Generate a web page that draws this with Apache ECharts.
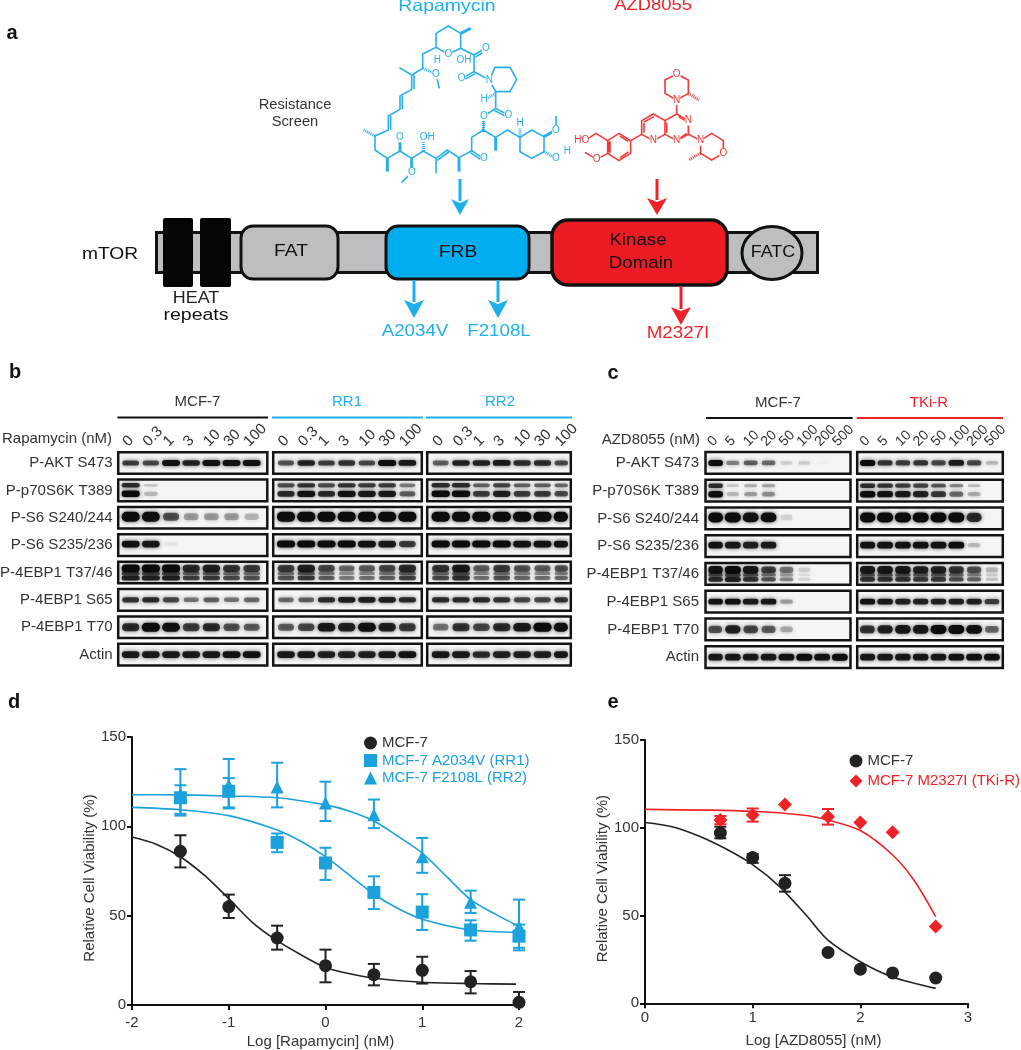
<!DOCTYPE html>
<html>
<head>
<meta charset="utf-8">
<title>mTOR resistance figure</title>
<script src="https://cdn.jsdelivr.net/npm/echarts@6/dist/echarts.min.js"></script>
<style>
  html, body { margin: 0; padding: 0; background: #fff; }
  #chart { width: 1021px; height: 1050px; }
</style>
</head>
<body>
<div id="chart"></div>
<script>
// ---- panel d values
const dDoses = [-1.5, -1, -0.5, 0, 0.5, 1, 1.5, 2];
const dMcf7 = [86, 55, 37.5, 22, 17, 19.4, 13, 1.5];
const dMcf7Low = [77, 48.7, 31, 12.7, 11, 12, 6.5, 0];
const dMcf7High = [95, 61.8, 44.4, 31, 23, 27, 19, 7.3];
const dRr1 = [116, 119.6, 91, 79.5, 63, 52, 42, 38.5];
const dRr1Low = [106, 110, 85.5, 70, 53.7, 42, 36, 30.6];
const dRr1High = [123, 127, 96, 88, 72, 62, 47.4, 45];
const dRr2 = [118, 123, 122, 113, 106.5, 83, 57.5, 44];
const dRr2Low = [107, 110.6, 110.6, 103, 99, 74, 51.5, 32];
const dRr2High = [132, 137.7, 135.6, 125, 115, 93.5, 64, 59];
const dCurveMcf7X = [-2, -1.75, -1.5, -1.25, -1, -0.75, -0.5, -0.25, 0, 0.25, 0.5, 1, 1.5, 1.97];
const dCurveMcf7 = [94, 90, 83, 72.5, 59.5, 46, 36, 28, 21, 17.5, 15, 12.7, 12, 11.7];
const dCurveRr1X = [-2, -1.5, -1, -0.5, -0.25, 0, 0.25, 0.5, 0.75, 1, 1.5, 2];
const dCurveRr1 = [110.6, 109.3, 106, 98, 91.5, 83, 72.5, 62, 54, 48, 42, 40.7];
const dCurveRr2X = [-2, -1.5, -1, -0.5, 0, 0.25, 0.5, 0.75, 1, 1.25, 1.5, 1.75, 2];
const dCurveRr2 = [117.7, 117.6, 117, 116, 112, 108.5, 103, 94.4, 85, 72, 59, 51, 44];

// ---- panel e values
const eDoses = [0.7, 1, 1.3, 1.7, 2, 2.3, 2.7];
const eMcf7 = [97, 83, 68.4, 29, 19.4, 17.3, 14.4];
const eMcf7Low = [94, 80, 63.6, 29, 19.4, 17.3, 14.4];
const eMcf7High = [100.6, 85, 73, 29, 19.4, 17.3, 14.4];
const eTkiR = [104.4, 107.3, 113.3, 106.3, 103, 97.4, 43.7];
const eTkiRLow = [102, 103.5, 113.3, 101.8, 103, 97.4, 43.7];
const eTkiRHigh = [106.7, 111, 113.3, 110.7, 103, 97.4, 43.7];
const eCurveMcf7X = [0, 0.25, 0.5, 0.75, 1, 1.25, 1.5, 1.7, 2, 2.3, 2.7];
const eCurveMcf7 = [103, 100.6, 95.3, 88, 79, 66.5, 50, 36, 23.7, 15, 8.5];
const eCurveTkiRX = [0, 1, 1.5, 1.7, 2, 2.3, 2.5, 2.7];
const eCurveTkiR = [110.5, 109.4, 107, 104.4, 98.4, 84.5, 70, 49.4];

// ---- blot tick labels and band strength (one row per antibody, one column per lane)
const blotRows = ['P-AKT S473', 'P-p70S6K T389', 'P-S6 S240/244', 'P-S6 S235/236', 'P-4EBP1 T37/46', 'P-4EBP1 S65', 'P-4EBP1 T70', 'Actin'];
const rapaDoses = ['0', '0.3', '1', '3', '10', '30', '100'];
const azdDoses = ['0', '5', '10', '20', '50', '100', '200', '500'];
const blotBMcf7 = [
  [.7, .65, .95, .85, .95, .95, .95],
  [1, .2, 0, 0, 0, 0, 0],
  [1, .95, .6, .3, .3, .3, .2],
  [.95, .9, .05, 0, 0, 0, 0],
  [1, 1, 1, .8, .85, .75, .7],
  [.75, .8, .65, .45, .55, .45, .5],
  [.8, 1, .95, .7, .8, .6, .55],
  [.9, .9, .9, .9, .9, .95, .95]
];
const blotBRr1 = [
  [.6, .85, .7, .75, .65, 1, .9],
  [.8, .95, .8, .95, .9, .9, .55],
  [1, 1, 1, 1, 1, 1, 1],
  [1, 1, 1, 1, .95, .9, .7],
  [.7, .85, .65, .5, .55, .65, .8],
  [.5, .55, .8, .85, .85, .85, .8],
  [.55, .65, .9, .85, .95, .85, .7],
  [.9, .9, .85, .85, .85, .9, .95]
];
const blotBRr2 = [
  [.55, .85, .85, .9, .8, .8, .65],
  [1, 1, .7, .85, .7, .7, .65],
  [1, 1, 1, 1, 1, 1, 1],
  [1, 1, 1, 1, .95, .95, .95],
  [.75, .9, .55, .7, .6, .55, .6],
  [.8, .8, .8, .75, .65, .65, .75],
  [.45, .75, .65, .8, .9, 1, .95],
  [.9, .9, .8, .85, .85, .85, .9]
];
const blotCMcf7 = [
  [1, .4, .55, .5, .12, .12, .02, 0],
  [1, .2, .3, .35, 0, 0, 0, 0],
  [1, 1, .95, .95, .1, 0, 0, 0],
  [.95, .9, .85, .9, 0, 0, 0, 0],
  [.95, 1, .9, .7, .45, .12, 0, 0],
  [.95, .95, .9, .9, .3, 0, 0, 0],
  [.6, .85, .65, .55, .25, 0, 0, 0],
  [.9, .9, .9, .9, .95, 1, .95, 1]
];
const blotCTkiR = [
  [1, .75, .7, .75, .65, .9, .65, .2],
  [1, .95, .9, .85, .75, .5, .25, 0],
  [1, 1, 1, 1, 1, 1, .8, 0],
  [.95, .95, .95, .95, .95, .98, .2, 0],
  [.9, .9, .9, .85, .85, .75, .6, .2],
  [.95, .9, .85, .85, .85, .85, .85, .7],
  [.75, .85, .9, .9, 1, 1, .95, .5],
  [.9, .9, .9, .9, .9, .95, .95, .95]
];

const FONT = '"Liberation Sans", Arial, sans-serif';
const BLACK = '#222222';
const BLUE = '#1ba1dc';
const BLUE_LIGHT = '#1fb0ec';
const RED = '#ee2328';
const TEXT = '#333333';

// how a band looks in each row: offset from the row centre, height, relative darkness
const bandShapes = [
  [{ dy: 0, h: 6, a: 1 }],
  [{ dy: -5, h: 4.5, a: .8 }, { dy: 3.5, h: 6.5, a: 1 }],
  [{ dy: -1, h: 10, a: 1 }],
  [{ dy: -1, h: 7, a: 1 }],
  [{ dy: -4, h: 8, a: 1 }, { dy: 1, h: 4, a: .65 }, { dy: 5.5, h: 5, a: .85 }],
  [{ dy: 0, h: 6, a: 1 }],
  [{ dy: 0, h: 9, a: 1 }],
  [{ dy: 0, h: 7, a: 1 }]
];

// ---- blot panels
const blots = [
  { name: 'b1', values: blotBMcf7, doses: rapaDoses, left: 120.6, width: 141.2, top: 449.3, height: 219, boxL: 117, boxR: 268.5, labels: true, margin: 8, fontSize: 15 },
  { name: 'b2', values: blotBRr1, doses: rapaDoses, left: 275.9, width: 141.6, top: 449.3, height: 219, boxL: 272, boxR: 423, fontSize: 15 },
  { name: 'b3', values: blotBRr2, doses: rapaDoses, left: 430.5, width: 142.5, top: 449.3, height: 219, boxL: 426, boxR: 572, fontSize: 15 },
  { name: 'c1', values: blotCMcf7, doses: azdDoses, left: 706, width: 143, top: 449, height: 222, boxL: 704.3, boxR: 851.7, labels: true, margin: 7, fontSize: 14 },
  { name: 'c2', values: blotCTkiR, doses: azdDoses, left: 858.4, width: 142.4, top: 449, height: 222, boxL: 856, boxR: 1004, fontSize: 14 }
];

const grids = [
  { left: 132, top: 737, width: 387, height: 268, outerBoundsMode: 'none' },
  { left: 645, top: 740, width: 323, height: 263.3, outerBoundsMode: 'none' }
];
const xAxes = [
  {
    type: 'value', gridIndex: 0, min: -2, max: 2, interval: 1,
    name: 'Log [Rapamycin] (nM)', nameLocation: 'middle', nameGap: 29,
    labelMargin: 10, namePadding: [0, 10, 0, 0]
  },
  {
    type: 'value', gridIndex: 1, min: 0, max: 3, interval: 1,
    name: 'Log [AZD8055] (nM)', nameLocation: 'middle', nameGap: 30,
    labelMargin: 7, namePadding: [0, 0, 0, 14]
  }
].map(a => Object.assign(a, {
  splitLine: { show: false },
  axisLine: { onZero: false, lineStyle: { color: '#111', width: 2 } },
  axisTick: { length: 5, lineStyle: { color: '#111', width: 2 } },
  axisLabel: { color: TEXT, fontSize: 15, fontFamily: FONT, margin: a.labelMargin },
  nameTextStyle: { color: TEXT, fontSize: 15, fontFamily: FONT, padding: a.namePadding }
}));
const yAxes = [0, 1].map(i => ({
  type: 'value', gridIndex: i, min: 0, max: 150, interval: 50,
  name: 'Relative Cell Viability (%)', nameLocation: 'middle', nameGap: i === 0 ? 30 : 29,
  splitLine: { show: false },
  axisLine: { show: true, onZero: false, lineStyle: { color: '#111', width: 2 } },
  axisTick: { show: true, length: 5, lineStyle: { color: '#111', width: 2 } },
  axisLabel: { color: TEXT, fontSize: 15, fontFamily: FONT, margin: 6 },
  nameTextStyle: { color: TEXT, fontSize: 15, fontFamily: FONT, padding: [0, 14, 0, 0] }
}));

const series = [];

function addCurve(axis, name, xs, ys, color) {
  series.push({
    type: 'line', name, xAxisIndex: axis, yAxisIndex: axis, smooth: 0.3, showSymbol: false,
    lineStyle: { color, width: 1.6 }, itemStyle: { color }, z: 2, silent: true,
    data: xs.map((x, i) => [x, ys[i]])
  });
}

function addPoints(axis, name, xs, ys, low, high, color, symbol, size) {
  series.push({
    type: 'custom', name: name + ' error', xAxisIndex: axis, yAxisIndex: axis, z: 3, silent: true,
    encode: { x: 0, y: [1, 2] },
    data: xs.map((x, i) => [x, low[i], high[i]]),
    renderItem(params, api) {
      const a = api.coord([api.value(0), api.value(1)]);
      const b = api.coord([api.value(0), api.value(2)]);
      if (Math.abs(a[1] - b[1]) < 1) return;
      const st = { stroke: color, lineWidth: 2, fill: 'none' };
      return {
        type: 'group',
        children: [
          { type: 'line', shape: { x1: a[0], y1: a[1], x2: b[0], y2: b[1] }, style: st },
          { type: 'line', shape: { x1: a[0] - 6, y1: a[1], x2: a[0] + 6, y2: a[1] }, style: st },
          { type: 'line', shape: { x1: b[0] - 6, y1: b[1], x2: b[0] + 6, y2: b[1] }, style: st }
        ]
      };
    }
  });
  series.push({
    type: 'scatter', name, xAxisIndex: axis, yAxisIndex: axis, symbol, symbolSize: size, z: 4, silent: true,
    itemStyle: { color, opacity: 1 },
    data: xs.map((x, i) => [x, ys[i]])
  });
}

addCurve(0, 'curve MCF-7 d', dCurveMcf7X, dCurveMcf7, BLACK);
addCurve(0, 'curve RR1', dCurveRr1X, dCurveRr1, BLUE);
addCurve(0, 'curve RR2', dCurveRr2X, dCurveRr2, BLUE);
addPoints(0, 'MCF-7', dDoses, dMcf7, dMcf7Low, dMcf7High, BLACK, 'circle', 13);
addPoints(0, 'MCF-7 A2034V (RR1)', dDoses, dRr1, dRr1Low, dRr1High, BLUE, 'rect', 13);
addPoints(0, 'MCF-7 F2108L (RR2)', dDoses, dRr2, dRr2Low, dRr2High, BLUE, 'triangle', 13);
addCurve(1, 'curve MCF-7 e', eCurveMcf7X, eCurveMcf7, BLACK);
addCurve(1, 'curve TKi-R', eCurveTkiRX, eCurveTkiR, RED);
addPoints(1, 'MCF-7', eDoses, eMcf7, eMcf7Low, eMcf7High, BLACK, 'circle', 13);
addPoints(1, 'MCF-7 M2327I (TKi-R)', eDoses, eTkiR, eTkiRLow, eTkiRHigh, RED, 'diamond', 14);

blots.forEach((b, i) => {
  const idx = i + 2;
  grids.push({ left: b.left, top: b.top, width: b.width, height: b.height, outerBoundsMode: 'none' });
  xAxes.push({
    type: 'category', gridIndex: idx, data: b.doses, position: 'top',
    axisLine: { show: false }, axisTick: { show: false }, splitLine: { show: false },
    axisLabel: {
      interval: 0, rotate: -45, margin: 0, hideOverlap: false, align: 'left', verticalAlign: 'bottom',
      color: TEXT, fontSize: b.fontSize, fontFamily: FONT
    }
  });
  yAxes.push({
    type: 'category', gridIndex: idx, data: blotRows, inverse: true,
    axisLine: { show: false }, axisTick: { show: false }, splitLine: { show: false },
    axisLabel: { show: !!b.labels, interval: 0, margin: b.margin || 8, color: TEXT, fontSize: 15, fontFamily: FONT }
  });
  // frame of each row
  series.push({
    type: 'custom', name: b.name + ' frames', xAxisIndex: idx, yAxisIndex: idx, z: 1, silent: true, clip: false,
    encode: { x: 0, y: 1 },
    data: blotRows.map((r, row) => [0, row]),
    renderItem(params, api) {
      const c = api.coord([0, api.value(1)]);
      const h = api.size([0, 1])[1] * 0.79;
      return {
        type: 'rect',
        shape: { x: b.boxL + 1.2, y: c[1] - h / 2, width: b.boxR - b.boxL - 2.4, height: h },
        style: { fill: '#f5f5f5', stroke: '#141414', lineWidth: 2.5 }
      };
    }
  });
  // bands
  const bandData = [];
  b.values.forEach((rowVals, row) => rowVals.forEach((v, lane) => {
    if (v > 0) bandData.push([lane, row, v]);
  }));
  series.push({
    type: 'custom', name: b.name + ' bands', xAxisIndex: idx, yAxisIndex: idx, z: 2, silent: true, clip: false,
    encode: { x: 0, y: 1 },
    data: bandData,
    renderItem(params, api) {
      const row = api.value(1);
      const v = api.value(2);
      const c = api.coord([api.value(0), row]);
      const w = api.size([1, 0])[0] * (0.65 + 0.25 * v);
      const x1 = Math.max(c[0] - w / 2, b.boxL + 4);
      const x2 = Math.min(c[0] + w / 2, b.boxR - 4);
      return {
        type: 'group',
        children: bandShapes[row].map(s => {
          const h = s.h * (0.55 + 0.45 * v);
          return {
            type: 'rect',
            shape: { x: x1, y: c[1] + s.dy - h / 2, width: x2 - x1, height: h, r: h / 2 },
            style: {
              fill: '#0c0c0c', opacity: Math.min(1, s.a * v),
              shadowBlur: 4, shadowColor: 'rgba(0,0,0,0.7)'
            }
          };
        })
      };
    }
  });
});

// ---- helpers for the drawn figure parts
function txt(x, y, text, size, color, opts) {
  opts = opts || {};
  return {
    type: 'text', x, y, scaleX: opts.sx || 1, z: opts.z || 20, silent: true,
    style: {
      text, fill: color, font: (opts.weight || 'normal') + ' ' + size + 'px ' + FONT,
      textAlign: opts.align || 'center', textVerticalAlign: 'middle', verticalAlign: 'middle',
      backgroundColor: opts.bg
    }
  };
}
function hline(x1, x2, y, color) {
  return { type: 'line', silent: true, shape: { x1, y1: y, x2, y2: y }, style: { stroke: color, lineWidth: 2 } };
}
function arrow(x, y1, y2, headY, headW, color) {
  return [
    { type: 'line', silent: true, z: 10, shape: { x1: x, y1, x2: x, y2: headY + 2 }, style: { stroke: color, lineWidth: 3 } },
    { type: 'polygon', silent: true, z: 10, shape: { points: [[x - headW / 2, headY], [x, headY + 4], [x + headW / 2, headY], [x, y2]] }, style: { fill: color } }
  ];
}
function box(x1, y1, x2, y2, r, fill, lw) {
  return {
    type: 'rect', silent: true, z: 6, shape: { x: x1, y: y1, width: x2 - x1, height: y2 - y1, r },
    style: { fill, stroke: '#111', lineWidth: lw || 3 }
  };
}
function molecule(ox, oy, color, bonds, wedges, hashes, atoms) {
  const out = [];
  const pts = b => { const p = []; for (let i = 0; i < b.length; i += 2) p.push([ox + b[i] / 3, oy + b[i + 1] / 3]); return p; };
  bonds.forEach(b => out.push({ type: 'polyline', silent: true, z: 5, shape: { points: pts(b) }, style: { stroke: color, fill: 'none', lineWidth: 1.6 } }));
  wedges.forEach(b => out.push({ type: 'polyline', silent: true, z: 5, shape: { points: pts(b) }, style: { stroke: color, fill: 'none', lineWidth: 3 } }));
  hashes.forEach(b => out.push({ type: 'polyline', silent: true, z: 5, shape: { points: pts(b) }, style: { stroke: color, fill: 'none', lineWidth: 3, lineDash: [1, 1] } }));
  atoms.forEach(a => out.push(txt(ox + a[0] / 3, oy + a[1] / 3, a[2], 10, color, { z: 7, bg: '#fff' })));
  return out;
}

const rapaBonds = [
  [75, 318, 75, 360, 112, 385, 150, 363, 185, 385, 220, 363, 258, 385, 292, 360, 327, 383, 365, 362, 365, 322, 400, 300, 437, 322, 472, 300, 510, 322, 545, 300, 582, 320, 582, 365, 545, 385, 510, 365, 510, 322],
  [262, 391, 296, 366],
  [75, 318, 115, 300, 115, 258, 150, 238, 150, 198, 185, 178, 185, 135, 218, 115, 218, 72, 258, 52, 295, 72, 332, 55, 332, 10, 295, -12, 258, 10, 258, 52],
  [122, 300, 122, 258], [157, 238, 157, 198], [192, 178, 192, 135],
  [185, 135, 148, 113], [258, 385, 258, 430],
  [332, 55, 372, 75, 372, 125, 418, 150, 435, 112, 480, 112, 500, 148, 480, 185, 437, 185, 418, 150],
  [372, 75, 405, 55], [376, 81, 409, 61],
  [372, 125, 335, 145], [376, 131, 339, 151],
  [437, 185, 437, 235, 402, 258], [437, 235, 475, 255], [433, 241, 471, 261],
  [402, 258, 400, 300],
  [365, 362, 400, 385], [361, 368, 396, 391],
  [618, 300, 618, 258], [186, 428, 155, 457], [258, 133, 268, 175]
];
const rapaWedges = [
  [150, 363, 150, 325], [437, 322, 437, 362], [582, 320, 612, 303], [112, 385, 112, 425], [185, 385, 185, 420], [327, 383, 327, 425], [332, 10, 362, -5]
];
const rapaHashes = [
  [75, 318, 38, 298], [220, 363, 220, 332], [400, 300, 400, 268], [510, 322, 510, 285], [582, 365, 608, 380], [218, 115, 250, 128], [437, 190, 410, 205]
];
const rapaAtoms = [
  [295, 72, 'O'], [262, 92, 'H'], [342, 92, 'OH'], [408, 55, 'O'], [335, 145, 'O'], [418, 150, 'N'],
  [258, 133, 'O'], [402, 207, 'H'], [402, 258, 'O'], [475, 255, 'O'], [510, 280, 'H'], [618, 300, 'O'],
  [618, 385, 'O'], [652, 365, 'H'], [150, 322, 'O'], [232, 322, 'OH'], [186, 428, 'O'], [402, 385, 'O']
];
const azdBonds = [
  [320, -78, 285, -60, 285, -20, 320, 0, 355, -20, 355, -60, 320, -78],
  [320, 0, 320, 42, 355, 62, 355, 103, 320, 122, 285, 103, 285, 62, 320, 42],
  [285, 62, 250, 42, 215, 62, 215, 103, 250, 122, 285, 103],
  [252, 50, 222, 66], [222, 68, 222, 98], [290, 68, 290, 98], [325, 50, 350, 64], [330, 115, 350, 100],
  [215, 103, 182, 122, 147, 100, 113, 122, 113, 160, 147, 182, 182, 160, 182, 122],
  [150, 108, 175, 124], [175, 156, 150, 174],
  [113, 122, 78, 100, 50, 118], [113, 160, 80, 178, 45, 157],
  [355, 103, 392, 122, 425, 100, 460, 122, 460, 160, 425, 180, 392, 160, 392, 122]
];
const azdWedges = [[118, 124, 118, 158]];
const azdHashes = [[392, 160, 355, 180], [355, -20, 387, 0]];
const azdAtoms = [
  [320, -78, 'O'], [320, 0, 'N'], [355, 62, 'N'], [320, 122, 'N'], [250, 122, 'N'], [392, 122, 'N'],
  [460, 160, 'O'], [80, 178, 'O'], [35, 120, 'HO']
];

const graphics = [
  // panel letters
  txt(12, 33, 'a', 20, '#111', { weight: 'bold' }),
  txt(15, 372, 'b', 20, '#111', { weight: 'bold' }),
  txt(613, 373, 'c', 20, '#111', { weight: 'bold' }),
  txt(14, 702, 'd', 20, '#111', { weight: 'bold' }),
  txt(613, 702, 'e', 20, '#111', { weight: 'bold' }),
  // panel a
  txt(447, 6, 'Rapamycin', 16.5, BLUE_LIGHT, { sx: 1.18 }),
  txt(653, 6, 'AZD8055', 16, RED, { sx: 1.15 }),
  txt(295, 105, 'Resistance', 14, TEXT, { sx: 1.05 }),
  txt(295, 122, 'Screen', 14, TEXT, { sx: 1.05 }),
  ...molecule(350, 30, '#29b0ec', rapaBonds, rapaWedges, rapaHashes, rapaAtoms),
  ...molecule(570, 100, '#ef3a3a', azdBonds, azdWedges, azdHashes, azdAtoms),
  box(156.5, 232.5, 817.5, 272.5, 0, '#bcbec0'),
  { type: 'rect', silent: true, z: 7, shape: { x: 163, y: 218, width: 30, height: 69, r: 2 }, style: { fill: '#050505' } },
  { type: 'rect', silent: true, z: 7, shape: { x: 200, y: 218, width: 31, height: 69, r: 2 }, style: { fill: '#050505' } },
  box(241, 226, 338, 279, 12, '#bcbec0'),
  box(386, 226, 529, 279, 12, '#00aeef'),
  box(552, 220, 727, 285, 16, '#ed1c24', 3.5),
  { type: 'ellipse', silent: true, z: 7, shape: { cx: 772, cy: 253, rx: 30, ry: 26.5 }, style: { fill: '#bcbec0', stroke: '#111', lineWidth: 3 } },
  ...arrow(460, 179, 215, 199, 18, BLUE_LIGHT),
  ...arrow(657, 179, 215, 198, 20, RED),
  ...arrow(414, 280, 318, 300, 20, BLUE_LIGHT),
  ...arrow(498, 280, 318, 300, 20, BLUE_LIGHT),
  ...arrow(681, 286, 325, 307, 20, RED),
  txt(110, 255, 'mTOR', 16, '#111', { sx: 1.2 }),
  txt(196, 299, 'HEAT', 16, '#222', { sx: 1.12 }),
  txt(196, 316, 'repeats', 16, '#111', { sx: 1.22 }),
  txt(291, 252, 'FAT', 16, '#111', { sx: 1.2 }),
  txt(458, 253, 'FRB', 16, '#111', { sx: 1.2 }),
  txt(638, 241, 'Kinase', 16, '#111', { sx: 1.17 }),
  txt(641, 264, 'Domain', 16, '#111', { sx: 1.17 }),
  txt(773, 253, 'FATC', 16, '#111', { sx: 1.12 }),
  txt(415, 332, 'A2034V', 16, BLUE_LIGHT, { sx: 1.17 }),
  txt(499, 332, 'F2108L', 16, BLUE_LIGHT, { sx: 1.17 }),
  txt(678, 334, 'M2327I', 16, RED, { sx: 1.17 }),
  // blot headers
  txt(197.5, 402, 'MCF-7', 15, TEXT),
  txt(347, 402, 'RR1', 15, BLUE_LIGHT),
  txt(500, 402, 'RR2', 15, BLUE_LIGHT),
  hline(117.4, 268, 417.5, '#111'),
  hline(272, 423, 417.5, BLUE_LIGHT),
  hline(426, 572, 417.5, BLUE_LIGHT),
  txt(112, 439, 'Rapamycin (nM)', 15, TEXT, { align: 'right' }),
  txt(778, 403, 'MCF-7', 15, TEXT),
  txt(929, 403, 'TKi-R', 15, RED),
  hline(706, 852.7, 418, '#111'),
  hline(856.7, 1003, 418, RED),
  txt(700, 440, 'AZD8055 (nM)', 15, TEXT, { align: 'right' })
];

const option = {
  animation: false,
  backgroundColor: '#fff',
  textStyle: { fontFamily: FONT },
  grid: grids,
  xAxis: xAxes,
  yAxis: yAxes,
  series: series,
  legend: [
    {
      left: 364, top: 735.5, orient: 'vertical', itemWidth: 13, itemHeight: 13, itemGap: 2.5, padding: 0, selectedMode: false,
      textStyle: { fontSize: 15, fontFamily: FONT },
      data: [
        { name: 'MCF-7', icon: 'circle', textStyle: { color: TEXT } },
        { name: 'MCF-7 A2034V (RR1)', icon: 'rect', textStyle: { color: BLUE } },
        { name: 'MCF-7 F2108L (RR2)', icon: 'triangle', textStyle: { color: BLUE } }
      ]
    },
    {
      left: 849.5, top: 753.5, orient: 'vertical', itemWidth: 13, itemHeight: 13, itemGap: 5, padding: 0, selectedMode: false,
      textStyle: { fontSize: 15, fontFamily: FONT },
      data: [
        { name: 'MCF-7', icon: 'circle', textStyle: { color: TEXT } },
        { name: 'MCF-7 M2327I (TKi-R)', icon: 'diamond', textStyle: { color: RED } }
      ]
    }
  ],
  graphic: { elements: graphics }
};

const myChart = echarts.init(document.getElementById('chart'));
myChart.setOption(option);
</script>
</body>
</html>
